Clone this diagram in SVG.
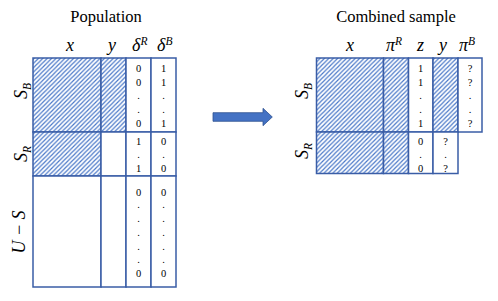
<svg xmlns="http://www.w3.org/2000/svg" width="498" height="301" viewBox="0 0 498 301" font-family="Liberation Serif, serif">
<defs>
<pattern id="hatch" patternUnits="userSpaceOnUse" width="4.4" height="4.4">
<rect width="4.4" height="4.4" fill="#ffffff"/>
<path d="M-1,1 l2,-2 M0,4.4 l4.4,-4.4 M3.4,5.4 l2,-2" stroke="#4A78C8" stroke-width="1.2"/>
</pattern>
<style>
.cell{stroke:#3A5DA6;stroke-width:1.5;fill:#ffffff}
.h{stroke:#3A5DA6;stroke-width:1.5;fill:url(#hatch)}
.title{font-size:16.5px}
.m{font-style:italic;font-size:18px}
.sup{font-size:11.5px}
.n{font-size:10.5px;text-anchor:middle}
</style>
</defs>

<text class="title" x="106" y="22" text-anchor="middle">Population</text>
<text class="title" x="396" y="22" text-anchor="middle">Combined sample</text>

<g id="pop-headers">
<text class="m" x="70" y="51" text-anchor="middle">x</text>
<text class="m" x="112" y="51" text-anchor="middle">y</text>
<text class="m" x="132" y="51">δ<tspan class="sup" dy="-6">R</tspan></text>
<text class="m" x="157" y="51">δ<tspan class="sup" dy="-6">B</tspan></text>
</g>

<g id="pop-rowlabels">
<text class="m" transform="translate(27,91) rotate(-90)" text-anchor="middle">S<tspan class="sup" dy="4">B</tspan></text>
<text class="m" transform="translate(27,154) rotate(-90)" text-anchor="middle">S<tspan class="sup" dy="4">R</tspan></text>
<text class="m" transform="translate(25,232) rotate(-90)" text-anchor="middle">U − S</text>
</g>

<g id="population">
<rect class="h" x="33" y="58" width="68" height="74"/>
<rect class="h" x="101" y="58" width="25" height="74"/>
<rect class="cell" x="126" y="58" width="25" height="74"/>
<rect class="cell" x="151" y="58" width="25" height="74"/>
<rect class="h" x="33" y="132" width="68" height="44"/>
<rect class="cell" x="101" y="132" width="25" height="44"/>
<rect class="cell" x="126" y="132" width="25" height="44"/>
<rect class="cell" x="151" y="132" width="25" height="44"/>
<rect class="cell" x="33" y="176" width="68" height="111"/>
<rect class="cell" x="101" y="176" width="25" height="111"/>
<rect class="cell" x="126" y="176" width="25" height="111"/>
<rect class="cell" x="151" y="176" width="25" height="111"/>
<text class="n" x="138.5" y="72">0</text><text class="n" x="138.5" y="86">0</text><text class="n" x="138.5" y="99">.</text><text class="n" x="138.5" y="113">.</text><text class="n" x="138.5" y="127">0</text>
<text class="n" x="163.5" y="72">1</text><text class="n" x="163.5" y="86">1</text><text class="n" x="163.5" y="99">.</text><text class="n" x="163.5" y="113">.</text><text class="n" x="163.5" y="127">1</text>
<text class="n" x="138.5" y="144.5">1</text><text class="n" x="138.5" y="158">.</text><text class="n" x="138.5" y="172">1</text>
<text class="n" x="163.5" y="144.5">0</text><text class="n" x="163.5" y="158">.</text><text class="n" x="163.5" y="172">0</text>
<text class="n" x="138.5" y="195.5">0</text><text class="n" x="138.5" y="208">.</text><text class="n" x="138.5" y="222">.</text><text class="n" x="138.5" y="236">.</text><text class="n" x="138.5" y="249.5">.</text><text class="n" x="138.5" y="263">.</text><text class="n" x="138.5" y="277">0</text>
<text class="n" x="163.5" y="195.5">0</text><text class="n" x="163.5" y="208">.</text><text class="n" x="163.5" y="222">.</text><text class="n" x="163.5" y="236">.</text><text class="n" x="163.5" y="249.5">.</text><text class="n" x="163.5" y="263">.</text><text class="n" x="163.5" y="277">0</text>
</g>

<g id="connectors">
<path d="M213,112.7 H263 V108.3 L272.3,117 L263,125.7 V121.3 H213 Z" fill="#4472C4" stroke="#2F528F" stroke-width="0.8"/>
</g>

<g id="sample-headers">
<text class="m" x="350" y="51" text-anchor="middle">x</text>
<text class="m" x="386" y="51">π<tspan class="sup" dy="-6">R</tspan></text>
<text class="m" x="420.5" y="51" text-anchor="middle">z</text>
<text class="m" x="443" y="51" text-anchor="middle">y</text>
<text class="m" x="459" y="51">π<tspan class="sup" dy="-6">B</tspan></text>
</g>

<g id="sample-rowlabels">
<text class="m" transform="translate(308,91) rotate(-90)" text-anchor="middle">S<tspan class="sup" dy="4">B</tspan></text>
<text class="m" transform="translate(308,151) rotate(-90)" text-anchor="middle">S<tspan class="sup" dy="4">R</tspan></text>
</g>

<g id="sample">
<rect class="h" x="316.5" y="58" width="67" height="74"/>
<rect class="h" x="383.5" y="58" width="25" height="74"/>
<rect class="cell" x="408.5" y="58" width="24.5" height="74"/>
<rect class="h" x="433" y="58" width="25" height="74"/>
<rect class="cell" x="458" y="58" width="24" height="74"/>
<rect class="h" x="316.5" y="132" width="67" height="41.5"/>
<rect class="h" x="383.5" y="132" width="25" height="41.5"/>
<rect class="cell" x="408.5" y="132" width="24.5" height="41.5"/>
<rect class="cell" x="433" y="132" width="25" height="41.5"/>
<text class="n" x="420.5" y="72">1</text><text class="n" x="420.5" y="86">1</text><text class="n" x="420.5" y="99">.</text><text class="n" x="420.5" y="113">.</text><text class="n" x="420.5" y="127">1</text>
<text class="n" x="470" y="72">?</text><text class="n" x="470" y="86">?</text><text class="n" x="470" y="99">.</text><text class="n" x="470" y="113">.</text><text class="n" x="470" y="127">?</text>
<text class="n" x="420.5" y="144.5">0</text><text class="n" x="420.5" y="158">.</text><text class="n" x="420.5" y="172">0</text>
<text class="n" x="445.5" y="144.5">?</text><text class="n" x="445.5" y="158">.</text><text class="n" x="445.5" y="172">?</text>
</g>
</svg>
